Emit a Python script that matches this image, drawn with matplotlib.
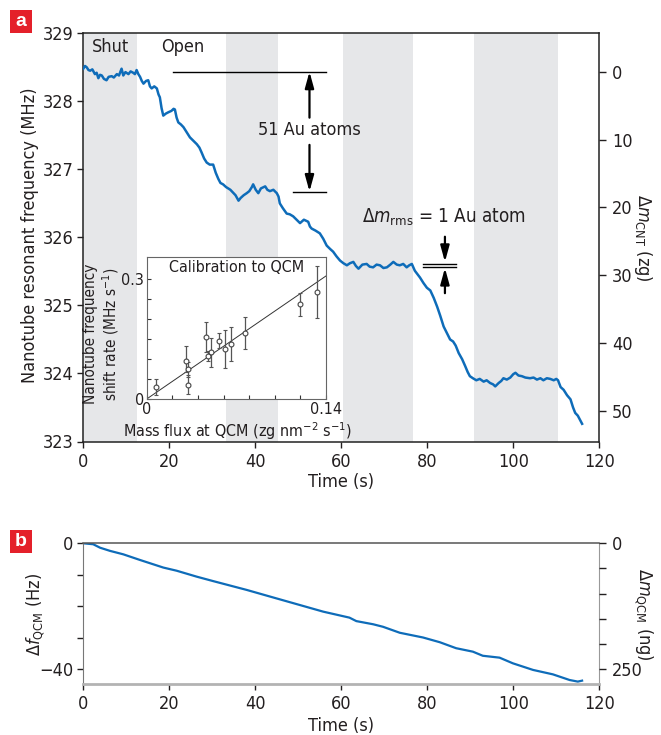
import matplotlib
matplotlib.use('Agg')
import matplotlib.pyplot as plt
from matplotlib.patches import Rectangle

FONT = ['DejaVu Sans']
plt.rcParams['font.family'] = FONT
plt.rcParams['font.stretch'] = 'condensed'
plt.rcParams['mathtext.fontset'] = 'custom'
plt.rcParams['mathtext.rm'] = 'DejaVu Sans:stretch=condensed'
plt.rcParams['mathtext.it'] = 'DejaVu Sans:italic:stretch=condensed'
plt.rcParams['font.size'] = 12

BLUE = '#0e6cb9'
GREY_BAND = '#e6e7e9'
TXT = '#231f20'
RED = '#e4202a'

# panel a: nanotube resonant frequency vs time
time_a = [0.0, 0.4, 0.8, 1.2, 1.6, 2.1, 2.7, 3.1, 3.5, 3.9, 4.3, 4.8, 5.4, 5.9, 6.6, 7.1,
          7.8, 8.3, 8.9, 9.3, 9.8, 10.5, 11.0, 11.6, 12.0, 12.4, 12.8, 13.2, 13.6, 14.0,
          14.6, 15.1, 15.5, 15.9, 16.5, 17.1, 17.5, 17.8, 18.2, 18.6, 19.2, 19.8, 20.5,
          21.0, 21.3, 21.7, 22.1, 22.7, 23.3, 24.0, 24.8, 25.6, 26.4, 27.0, 27.5, 28.1,
          28.7, 29.4, 30.2, 30.8, 31.4, 31.9, 32.5, 33.2, 34.2, 34.8, 35.4, 36.1, 36.6,
          37.3, 38.0, 38.6, 39.2, 39.5, 40.1, 40.7, 41.3, 42.3, 42.8, 43.4, 44.2, 45.0,
          45.4, 45.7, 46.4, 47.3, 48.0, 48.8, 49.6, 50.4, 51.3, 52.3, 52.7, 53.1, 54.0,
          55.0, 55.8, 56.6, 57.4, 58.1, 58.9, 59.7, 60.5, 61.3, 62.0, 62.8, 63.4, 64.0,
          64.9, 65.9, 66.6, 67.4, 68.2, 69.0, 69.8, 70.6, 71.4, 72.1, 72.9, 73.6, 74.4,
          75.2, 75.8, 76.4, 77.1, 78.3, 79.1, 79.9, 80.7, 81.5, 82.3, 83.0, 83.8, 84.5,
          85.3, 86.0, 86.6, 87.3, 88.1, 88.8, 89.4, 89.9, 90.6, 91.4, 92.2, 93.1, 93.8,
          94.6, 95.3, 95.8, 96.6, 97.2, 97.7, 98.5, 99.3, 100.0, 100.5, 101.2, 102.0,
          102.8, 103.9, 104.7, 105.5, 106.3, 107.0, 107.8, 108.6, 109.4, 110.0, 110.4,
          111.0, 111.7, 112.5, 113.3, 113.9, 114.4, 115.0, 115.5, 116.0]
freq_a = [328.48, 328.52, 328.50, 328.46, 328.45, 328.47, 328.40, 328.42, 328.34, 328.39,
          328.38, 328.33, 328.31, 328.36, 328.37, 328.35, 328.40, 328.38, 328.48, 328.38,
          328.43, 328.40, 328.44, 328.42, 328.40, 328.46, 328.40, 328.36, 328.30, 328.26,
          328.30, 328.31, 328.22, 328.19, 328.22, 328.19, 328.10, 328.06, 327.90, 327.79,
          327.82, 327.84, 327.86, 327.89, 327.88, 327.76, 327.69, 327.66, 327.62, 327.55,
          327.47, 327.42, 327.37, 327.32, 327.25, 327.16, 327.10, 327.07, 327.07, 326.95,
          326.86, 326.80, 326.78, 326.74, 326.70, 326.66, 326.62, 326.54, 326.58, 326.62,
          326.65, 326.68, 326.74, 326.78, 326.70, 326.65, 326.72, 326.75, 326.70, 326.68,
          326.70, 326.65, 326.60, 326.50, 326.43, 326.35, 326.34, 326.31, 326.26, 326.21,
          326.26, 326.23, 326.16, 326.13, 326.10, 326.06, 325.98, 325.88, 325.83, 325.79,
          325.72, 325.66, 325.62, 325.59, 325.62, 325.64, 325.58, 325.54, 325.60, 325.61,
          325.57, 325.56, 325.60, 325.59, 325.55, 325.56, 325.60, 325.64, 325.60, 325.59,
          325.61, 325.56, 325.59, 325.61, 325.51, 325.41, 325.33, 325.26, 325.22, 325.11,
          324.98, 324.85, 324.69, 324.60, 324.50, 324.47, 324.41, 324.30, 324.21, 324.11,
          324.02, 323.96, 323.93, 323.90, 323.92, 323.88, 323.90, 323.86, 323.84, 323.81,
          323.86, 323.89, 323.93, 323.91, 323.94, 323.99, 324.01, 323.97, 323.96, 323.94,
          323.93, 323.94, 323.91, 323.93, 323.90, 323.93, 323.92, 323.90, 323.92, 323.90,
          323.80, 323.76, 323.68, 323.62, 323.50, 323.42, 323.38, 323.32, 323.26]

shut_periods = [(0.0, 12.5), (33.3, 45.2), (60.4, 76.6), (90.8, 110.3)]

# annotation levels (MHz)
f_top = 328.436
f_low = 326.674
rms_lines = [325.615, 325.57]

# inset: calibration to QCM
flux = [0.0070, 0.0306, 0.0325, 0.0320, 0.0462, 0.0478, 0.0501, 0.0561, 0.0610,
        0.0655, 0.0769, 0.1197, 0.1327]
rate = [0.029, 0.096, 0.074, 0.035, 0.156, 0.108, 0.117, 0.146, 0.125, 0.138,
        0.166, 0.237, 0.268]
rate_hi = [0.050, 0.1325, 0.0925, 0.060, 0.193, 0.120, 0.153, 0.166, 0.1725, 0.181,
           0.206, 0.264, 0.333]
rate_lo = [0.010, 0.068, 0.056, 0.012, 0.117, 0.095, 0.081, 0.127, 0.077, 0.095,
           0.125, 0.208, 0.203]
fit_slope = 2.2

# panel b: QCM frequency shift
time_b = [0, 2.3, 3.9, 6.2, 9.3, 13.2, 18.6, 21.7, 26.4, 30.2, 34.1, 38.0, 43.4, 49.6,
          55.8, 61.9, 63.5, 67.4, 69.7, 73.6, 79.0, 82.9, 86.7, 90.6, 92.9, 96.8, 99.9,
          104.6, 109.2, 113.1, 115.0, 116.0]
dfreq_b = [0, -0.3, -1.4, -2.4, -3.5, -5.3, -7.7, -8.7, -10.6, -12.0, -13.4, -14.8,
           -16.9, -19.3, -21.7, -23.6, -24.7, -25.7, -26.5, -28.4, -29.9, -31.4, -33.3,
           -34.4, -35.7, -36.3, -38.1, -40.2, -41.6, -43.4, -43.9, -43.6]

W, H = 661, 735
fig = plt.figure(figsize=(W / 100, H / 100), dpi=100)


def fx(px):
    return px / W


def fy(py):
    return 1 - py / H


# ---------- panel a ----------
ax = fig.add_axes([fx(83.3), fy(441.5), fx(599.3) - fx(83.3), fy(33.3) - fy(441.5)])
for s, e in shut_periods:
    ax.axvspan(s, e, color=GREY_BAND, lw=0, zorder=0)
ax.plot(time_a, freq_a, color=BLUE, lw=1.8, zorder=3)
ax.set_xlim(0, 120)
ax.set_ylim(323, 329)
ax.set_xticks(range(0, 121, 20))
ax.set_yticks(range(323, 330))
ax.tick_params(direction='out', length=4, width=1, colors=TXT, labelsize=13, pad=3)
ax.tick_params(axis='x', pad=4)
for sp in ax.spines.values():
    sp.set_linewidth(1.1)
    sp.set_color('#222222')

ax2 = ax.twinx()
ax2.set_ylim(54.52, -5.66)
ax2.set_yticks(range(0, 51, 10))
ax2.tick_params(direction='out', length=5, width=1, colors=TXT, labelsize=13, pad=4)
for sp in ax2.spines.values():
    sp.set_visible(False)

ax.text(6.4, 328.80, 'Shut', ha='center', va='center', fontsize=13, color=TXT)
ax.text(23.2, 328.80, 'Open', ha='center', va='center', fontsize=13, color=TXT)

ax.plot([20.9, 56.5], [f_top, f_top], color='k', lw=1.0, zorder=4)
ax.plot([48.8, 56.5], [f_low, f_low], color='k', lw=1.0, zorder=4)
arr = dict(arrowstyle='-|>,head_width=0.22,head_length=0.8', color='k', lw=1.6,
           shrinkA=0, shrinkB=0)
ax.annotate('', xy=(52.6, f_top), xytext=(52.6, 327.76), arrowprops=arr, zorder=4)
ax.annotate('', xy=(52.6, f_low), xytext=(52.6, 327.36), arrowprops=arr, zorder=4)
ax.text(52.5, 327.58, '51 Au atoms', ha='center', va='center', fontsize=13, color=TXT)

for lvl in rms_lines:
    ax.plot([79.1, 86.7], [lvl, lvl], color='k', lw=1.0, zorder=4)
ax.annotate('', xy=(84.1, 325.64), xytext=(84.1, 326.01), arrowprops=arr, zorder=4)
ax.annotate('', xy=(84.1, 325.55), xytext=(84.1, 325.18), arrowprops=arr, zorder=4)
ax.text(83.9, 326.29, r'$\Delta m_{\rm rms}$ = 1 Au atom', ha='center', va='center',
        fontsize=13.5, color=TXT)

fig.text(fx(30), fy(235), 'Nanotube resonant frequency (MHz)', rotation=90,
         ha='center', va='center', fontsize=13, color=TXT)
fig.text(fx(643), fy(238), r'$\Delta m_{\rm CNT}$ (zg)', rotation=270,
         ha='center', va='center', fontsize=13, color=TXT)
fig.text(fx(341), fy(482), 'Time (s)', ha='center', va='center', fontsize=13, color=TXT)

# ---------- inset ----------
axi = fig.add_axes([fx(146.7), fy(399), fx(326.5) - fx(146.7), fy(256.7) - fy(399)])
axi.set_facecolor('white')
axi.set_zorder(5)
axi.set_xlim(0, 0.1403)
axi.set_ylim(0, 0.356)
err_lo = [r - lo for r, lo in zip(rate, rate_lo)]
err_hi = [hi - r for r, hi in zip(rate, rate_hi)]
axi.errorbar(flux, rate, yerr=[err_lo, err_hi], fmt='o', ms=3.5, mfc='white',
             mec='#444444', mew=0.8, ecolor='#555555', elinewidth=0.9, capsize=1.5,
             capthick=0.8, zorder=3)
axi.plot([0, 0.1403], [0, fit_slope * 0.1403], color='#333333', lw=0.7, zorder=2)
axi.set_xticks([0.0, 0.02, 0.04, 0.06, 0.08, 0.10, 0.12, 0.14])
axi.set_xticklabels(['0', '', '', '', '', '', '', '0.14'])
axi.set_yticks([0.0, 0.05, 0.10, 0.15, 0.20, 0.25, 0.30])
axi.set_yticklabels(['0', '', '', '', '', '', '0.3'])
axi.tick_params(direction='in', length=3, width=0.8, colors='#333333', labelcolor=TXT,
                labelsize=11.5, pad=2)
for sp in axi.spines.values():
    sp.set_linewidth(0.8)
    sp.set_color('#666666')
axi.text(0.5, 0.925, 'Calibration to QCM', transform=axi.transAxes, ha='center',
         va='center', fontsize=11.5, color=TXT)
fig.text(fx(102), fy(334), 'Nanotube frequency\nshift rate (MHz s$^{-1}$)', rotation=90,
         ha='center', va='center', fontsize=11, color=TXT, linespacing=1.15)
fig.text(fx(237), fy(431), 'Mass flux at QCM (zg nm$^{-2}$ s$^{-1}$)', ha='center',
         va='center', fontsize=11.5, color=TXT)

# ---------- panel b ----------
bx = fig.add_axes([fx(83.3), fy(684.3), fx(599.3) - fx(83.3), fy(543.3) - fy(684.3)])
bx.plot(time_b, dfreq_b, color=BLUE, lw=1.6)
bx.set_xlim(0, 120)
bx.set_ylim(-44.76, 0)
bx.set_xticks(range(0, 121, 20))
bx.set_yticks([-40, -30, -20, -10, 0])
bx.set_yticklabels(['\u221240', '', '', '', '0'])
bx.tick_params(direction='out', length=4, width=1, colors=TXT, labelsize=13, pad=3)
bx.tick_params(axis='x', pad=4)
bx.spines['bottom'].set_color('#b3b3b3')
bx.spines['bottom'].set_linewidth(2.0)
bx.spines['top'].set_color('#555555')
bx.spines['top'].set_linewidth(1.1)
bx.spines['left'].set_color('#777777')
bx.spines['right'].set_color('#999999')

bx2 = bx.twinx()
bx2.set_ylim(279.8, 0)
bx2.set_yticks([0, 50, 100, 150, 200, 250])
bx2.set_yticklabels(['0', '', '', '', '', '250'])
bx2.tick_params(direction='out', length=5, width=1, colors=TXT, labelsize=13, pad=4)
for sp in bx2.spines.values():
    sp.set_visible(False)

fig.text(fx(36), fy(615), r'$\Delta f_{\rm QCM}$ (Hz)', rotation=90, ha='center',
         va='center', fontsize=13, color=TXT)
fig.text(fx(643), fy(614), r'$\Delta m_{\rm QCM}$ (ng)', rotation=270, ha='center',
         va='center', fontsize=13, color=TXT)
fig.text(fx(341), fy(726), 'Time (s)', ha='center', va='center', fontsize=13, color=TXT)

# panel letters
for label, top in [('a', 10), ('b', 530)]:
    fig.patches.append(Rectangle((fx(9.5), fy(top + 22.5)), fx(22.5), 22.5 / H,
                                 transform=fig.transFigure, facecolor=RED, lw=0))
    fig.text(fx(20.8), fy(top + 11.5), label, ha='center', va='center', color='white',
             fontsize=14, fontweight='bold', family=['Liberation Sans', 'DejaVu Sans'])

fig.savefig('out.png', dpi=100)
